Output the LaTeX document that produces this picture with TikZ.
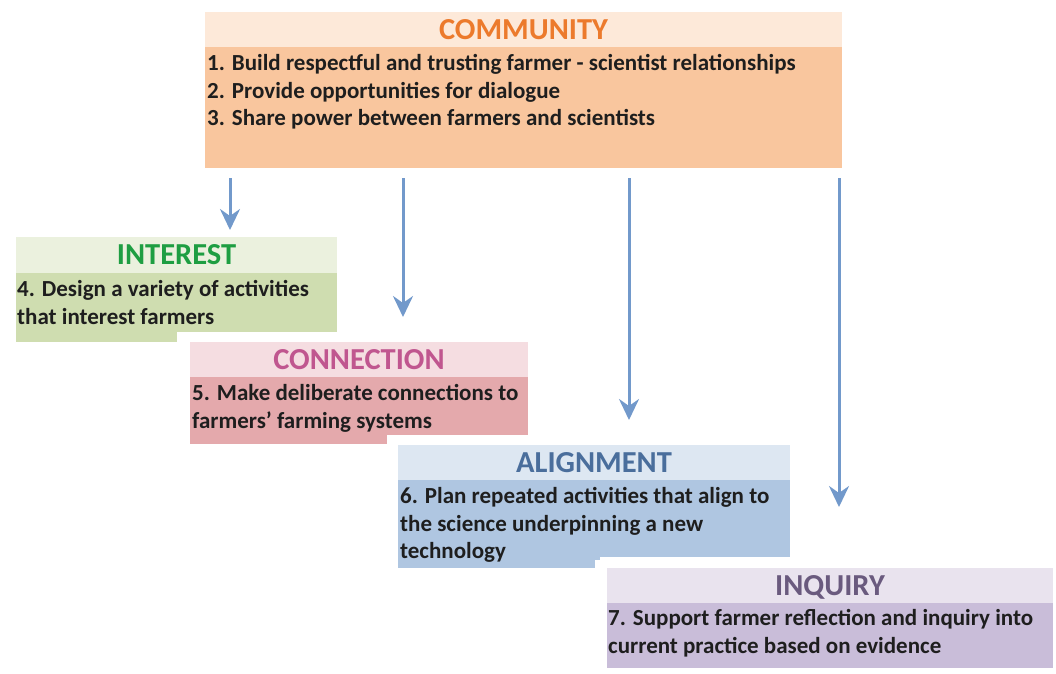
\documentclass[tikz,border=0pt]{standalone}
\usepackage{fontspec}
\setmainfont{Carlito}
\usetikzlibrary{arrows.meta}

\definecolor{commhead}{HTML}{FDE9D9}
\definecolor{commbody}{HTML}{F9C69E}
\definecolor{commtitle}{HTML}{EC7A2C}
\definecolor{inthead}{HTML}{EBF1DE}
\definecolor{intbody}{HTML}{CFDDB0}
\definecolor{inttitle}{HTML}{1E9E42}
\definecolor{conhead}{HTML}{F5DDE1}
\definecolor{conbody}{HTML}{E4A9AC}
\definecolor{contitle}{HTML}{C0568F}
\definecolor{alihead}{HTML}{DDE7F2}
\definecolor{alibody}{HTML}{AFC6E1}
\definecolor{alititle}{HTML}{4A6E9C}
\definecolor{inqhead}{HTML}{E9E3EE}
\definecolor{inqbody}{HTML}{C9BDD9}
\definecolor{inqtitle}{HTML}{6A5A7E}
\definecolor{flowblue}{HTML}{7299CB}
\definecolor{ink}{HTML}{1E1E1E}

\begin{document}
\begin{tikzpicture}[x=1pt,y=-1pt,
        panel/.style={anchor=north west, inner sep=0pt, outer sep=0pt},
        head/.style={panel, text height=19pt, text depth=0pt,
            font=\fontsize{30.5}{34}\selectfont\bfseries},
        items/.style={anchor=north west, inner sep=0pt, align=left, text=ink,
            font=\fontsize{23}{27.5}\selectfont\bfseries},
        flow/.style={-{Stealth[length=21pt,width=20pt,inset=7pt]}, line width=3pt, flowblue}]
        \useasboundingbox (0,0) rectangle (1056,673);
        % Community
            \node[head, fill=commhead, text=commtitle, minimum width=637pt, minimum height=35pt] (commH) at (205,12) {COMMUNITY};
            \node[panel, fill=commbody, minimum width=637pt, minimum height=121pt] (comm) at (205,47) {};
            \node[items] (commT) at (207,54.5) {1. Build respectful and trusting farmer - scientist relationships\\2. Provide opportunities for dialogue\\3. Share power between farmers and scientists};
        % Interest
            \node[head, fill=inthead, text=inttitle, minimum width=321pt, minimum height=36pt] (intH) at (16,237) {INTEREST};
            \node[panel, fill=intbody, minimum width=321pt, minimum height=59pt] (int) at (16,273) {};
            \fill[intbody] (16,332) rectangle (177,342);
            \node[items] (intT) at (17,280.5) {4. Design a variety of activities\\that interest farmers};
        % Connection
            \node[head, fill=conhead, text=contitle, minimum width=338pt, minimum height=35pt] (conH) at (190,342) {CONNECTION};
            \node[panel, fill=conbody, minimum width=338pt, minimum height=58pt] (con) at (190,377) {};
            \fill[conbody] (190,435) rectangle (387,444);
            \node[items] (conT) at (192,384.5) {5. Make deliberate connections to\\farmers’ farming systems};
        % Alignment
            \node[head, fill=alihead, text=alititle, minimum width=392pt, minimum height=35pt] (aliH) at (398,445) {ALIGNMENT};
            \node[panel, fill=alibody, minimum width=392pt, minimum height=77pt] (ali) at (398,480) {};
            \fill[alibody] (398,557) rectangle (600,568);
            \node[items] (aliT) at (400,487.5) {6. Plan repeated activities that align to\\the science underpinning a new\\technology};
        % Inquiry
            \fill[white] (595,560) rectangle (1056,673);
            \node[head, fill=inqhead, text=inqtitle, minimum width=446pt, minimum height=35pt] (inqH) at (607,568) {INQUIRY};
            \node[panel, fill=inqbody, minimum width=446pt, minimum height=65pt] (inq) at (607,603) {};
            \node[items] (inqT) at (608,609.5) {7. Support farmer reflection and inquiry into\\current practice based on evidence};
        % Arrows
            \coordinate (t1) at (230,230);
            \coordinate (t2) at (403,317);
            \coordinate (t3) at (629,420);
            \coordinate (t4) at (839,507);
            \foreach \t in {t1,t2,t3,t4}
                \draw[flow] ([yshift=-10pt]comm.south -| \t) -- (\t);
        \end{tikzpicture}
\end{document}
